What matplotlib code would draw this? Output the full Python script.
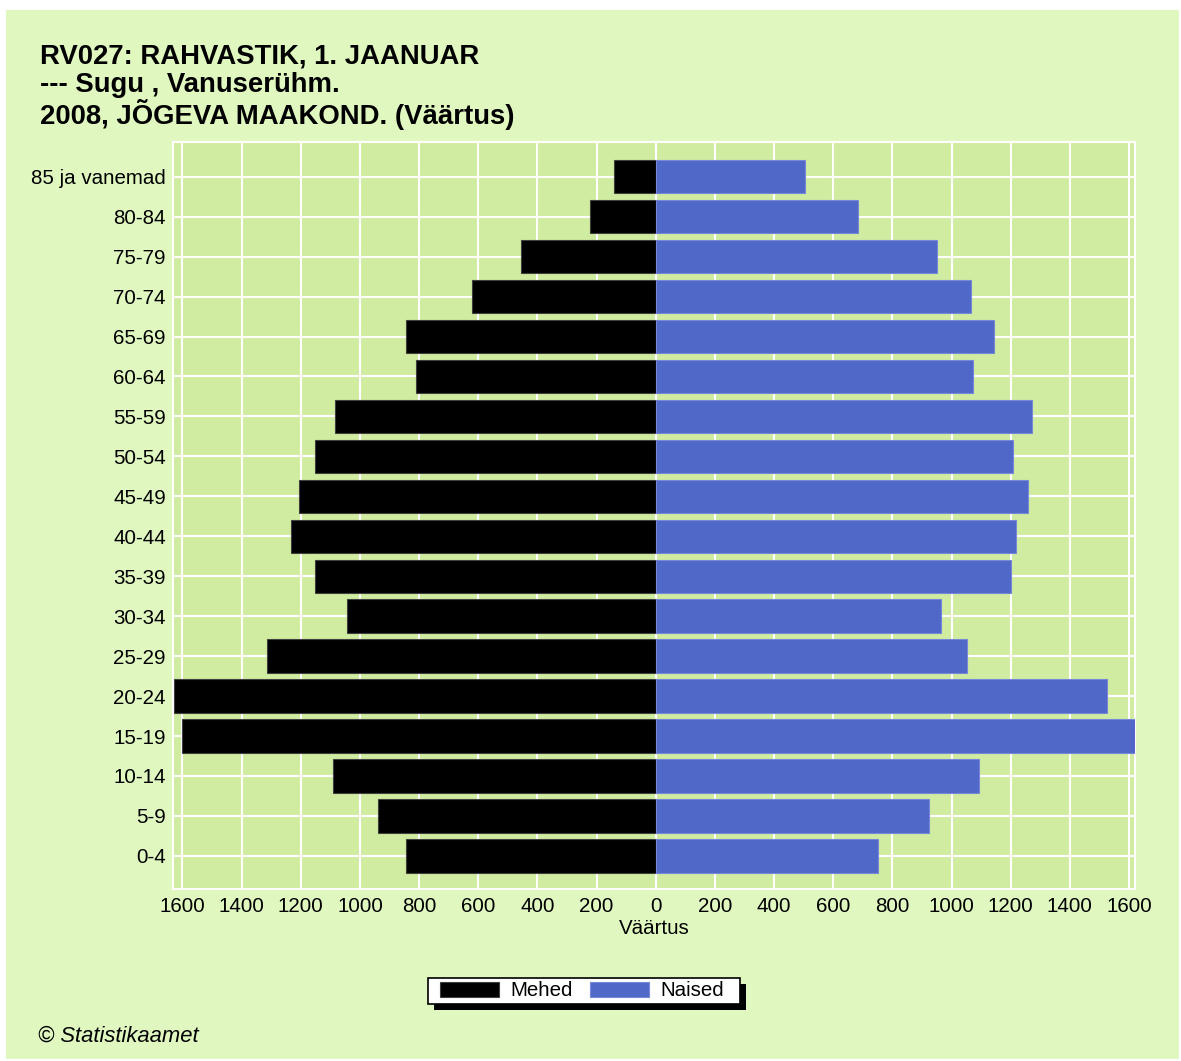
import matplotlib.pyplot as plt
from matplotlib.patches import Rectangle
from matplotlib.ticker import FuncFormatter

# age groups, bottom to top
age_groups = ["0-4", "5-9", "10-14", "15-19", "20-24", "25-29", "30-34", "35-39",
              "40-44", "45-49", "50-54", "55-59", "60-64", "65-69", "70-74",
              "75-79", "80-84", "85 ja vanemad"]
men = [844, 938, 1092, 1600, 1627, 1313, 1045, 1152, 1232, 1206, 1152, 1085,
       810, 844, 622, 455, 222, 141]
women = [750, 924, 1092, 1620, 1527, 1051, 965, 1200, 1218, 1259, 1206, 1272,
         1072, 1145, 1065, 951, 684, 503]
x_ticks = list(range(-1600, 1601, 200))

title_lines = ["RV027: RAHVASTIK, 1. JAANUAR",
               "--- Sugu , Vanuserühm.",
               "2008, JÕGEVA MAAKOND. (Väärtus)"]

PANEL = "#e0f8c0"
PLOT_BG = "#d0eca0"
BLUE = "#5068c8"

plt.rcParams["font.family"] = ["Liberation Sans", "DejaVu Sans"]

W, H = 1181, 1061
fig = plt.figure(figsize=(W / 100, H / 100), dpi=100)
fig.patch.set_facecolor("white")
fig.patches.append(Rectangle((6 / W, 1 - 1059 / H), 1173 / W, 1049 / H,
                             transform=fig.transFigure, facecolor=PANEL,
                             edgecolor="none", zorder=-10))

ax = fig.add_axes([172.7 / W, 1 - 889 / H, (1135 - 172.7) / W, (889 - 142) / H])
ax.set_facecolor(PLOT_BG)

y = list(range(len(age_groups)))
ax.barh(y, [-m for m in men], height=0.835, color="black", edgecolor="#404040",
        linewidth=0.8, label="Mehed", zorder=3)
ax.barh(y, women, height=0.835, color=BLUE, edgecolor="#7888d8",
        linewidth=0.8, label="Naised", zorder=3)

ax.set_xlim(-1633, 1620)
ax.set_ylim(-0.83, len(age_groups) - 1 + 0.87)
ax.set_xticks(x_ticks)
ax.xaxis.set_major_formatter(FuncFormatter(lambda v, p: f"{abs(int(v))}"))
ax.set_yticks(y)
ax.set_yticklabels(age_groups)
ax.tick_params(axis="both", length=0, labelsize=14.8, colors="black")
ax.tick_params(axis="x", pad=6)
ax.tick_params(axis="y", pad=5)
ax.grid(True, color="white", linewidth=1.5, zorder=1)
ax.set_axisbelow(True)
for s in ax.spines.values():
    s.set_color("white")
    s.set_linewidth(1.5)

ax.set_xlabel("Väärtus", fontsize=14.8, labelpad=2)

for i, line in enumerate(title_lines):
    fig.text(40 / W, 1 - (57 + i * 28.5) / H, line, fontsize=19.8,
             fontweight="bold", va="center", ha="left")

fig.text(38 / W, 1 - 1036 / H, "© Statistikaamet", fontsize=15.8,
         style="italic", va="center", ha="left")

leg = fig.legend(loc="center", bbox_to_anchor=(582 / W, 1 - 991 / H), ncol=2,
                 fontsize=14.8, frameon=False, handlelength=2.9,
                 handleheight=0.7, handletextpad=0.55, columnspacing=0.8,
                 borderpad=0.15, borderaxespad=0)

# legend box with a hard black shadow, drawn behind the legend entries
fig.canvas.draw()
bb = leg.get_window_extent()
x0, y0, bw, bh = bb.x0 - 9, bb.y0, bb.width + 22, bb.height
fig.patches.append(Rectangle(((x0 + 6) / W, (y0 - 6) / H), bw / W, bh / H,
                             transform=fig.transFigure, facecolor="black",
                             edgecolor="none", zorder=-5))
fig.patches.append(Rectangle((x0 / W, y0 / H), bw / W, bh / H,
                             transform=fig.transFigure, facecolor="white",
                             edgecolor="black", linewidth=1.2, zorder=-4))

fig.savefig("out.png", dpi=100, facecolor=fig.get_facecolor())
